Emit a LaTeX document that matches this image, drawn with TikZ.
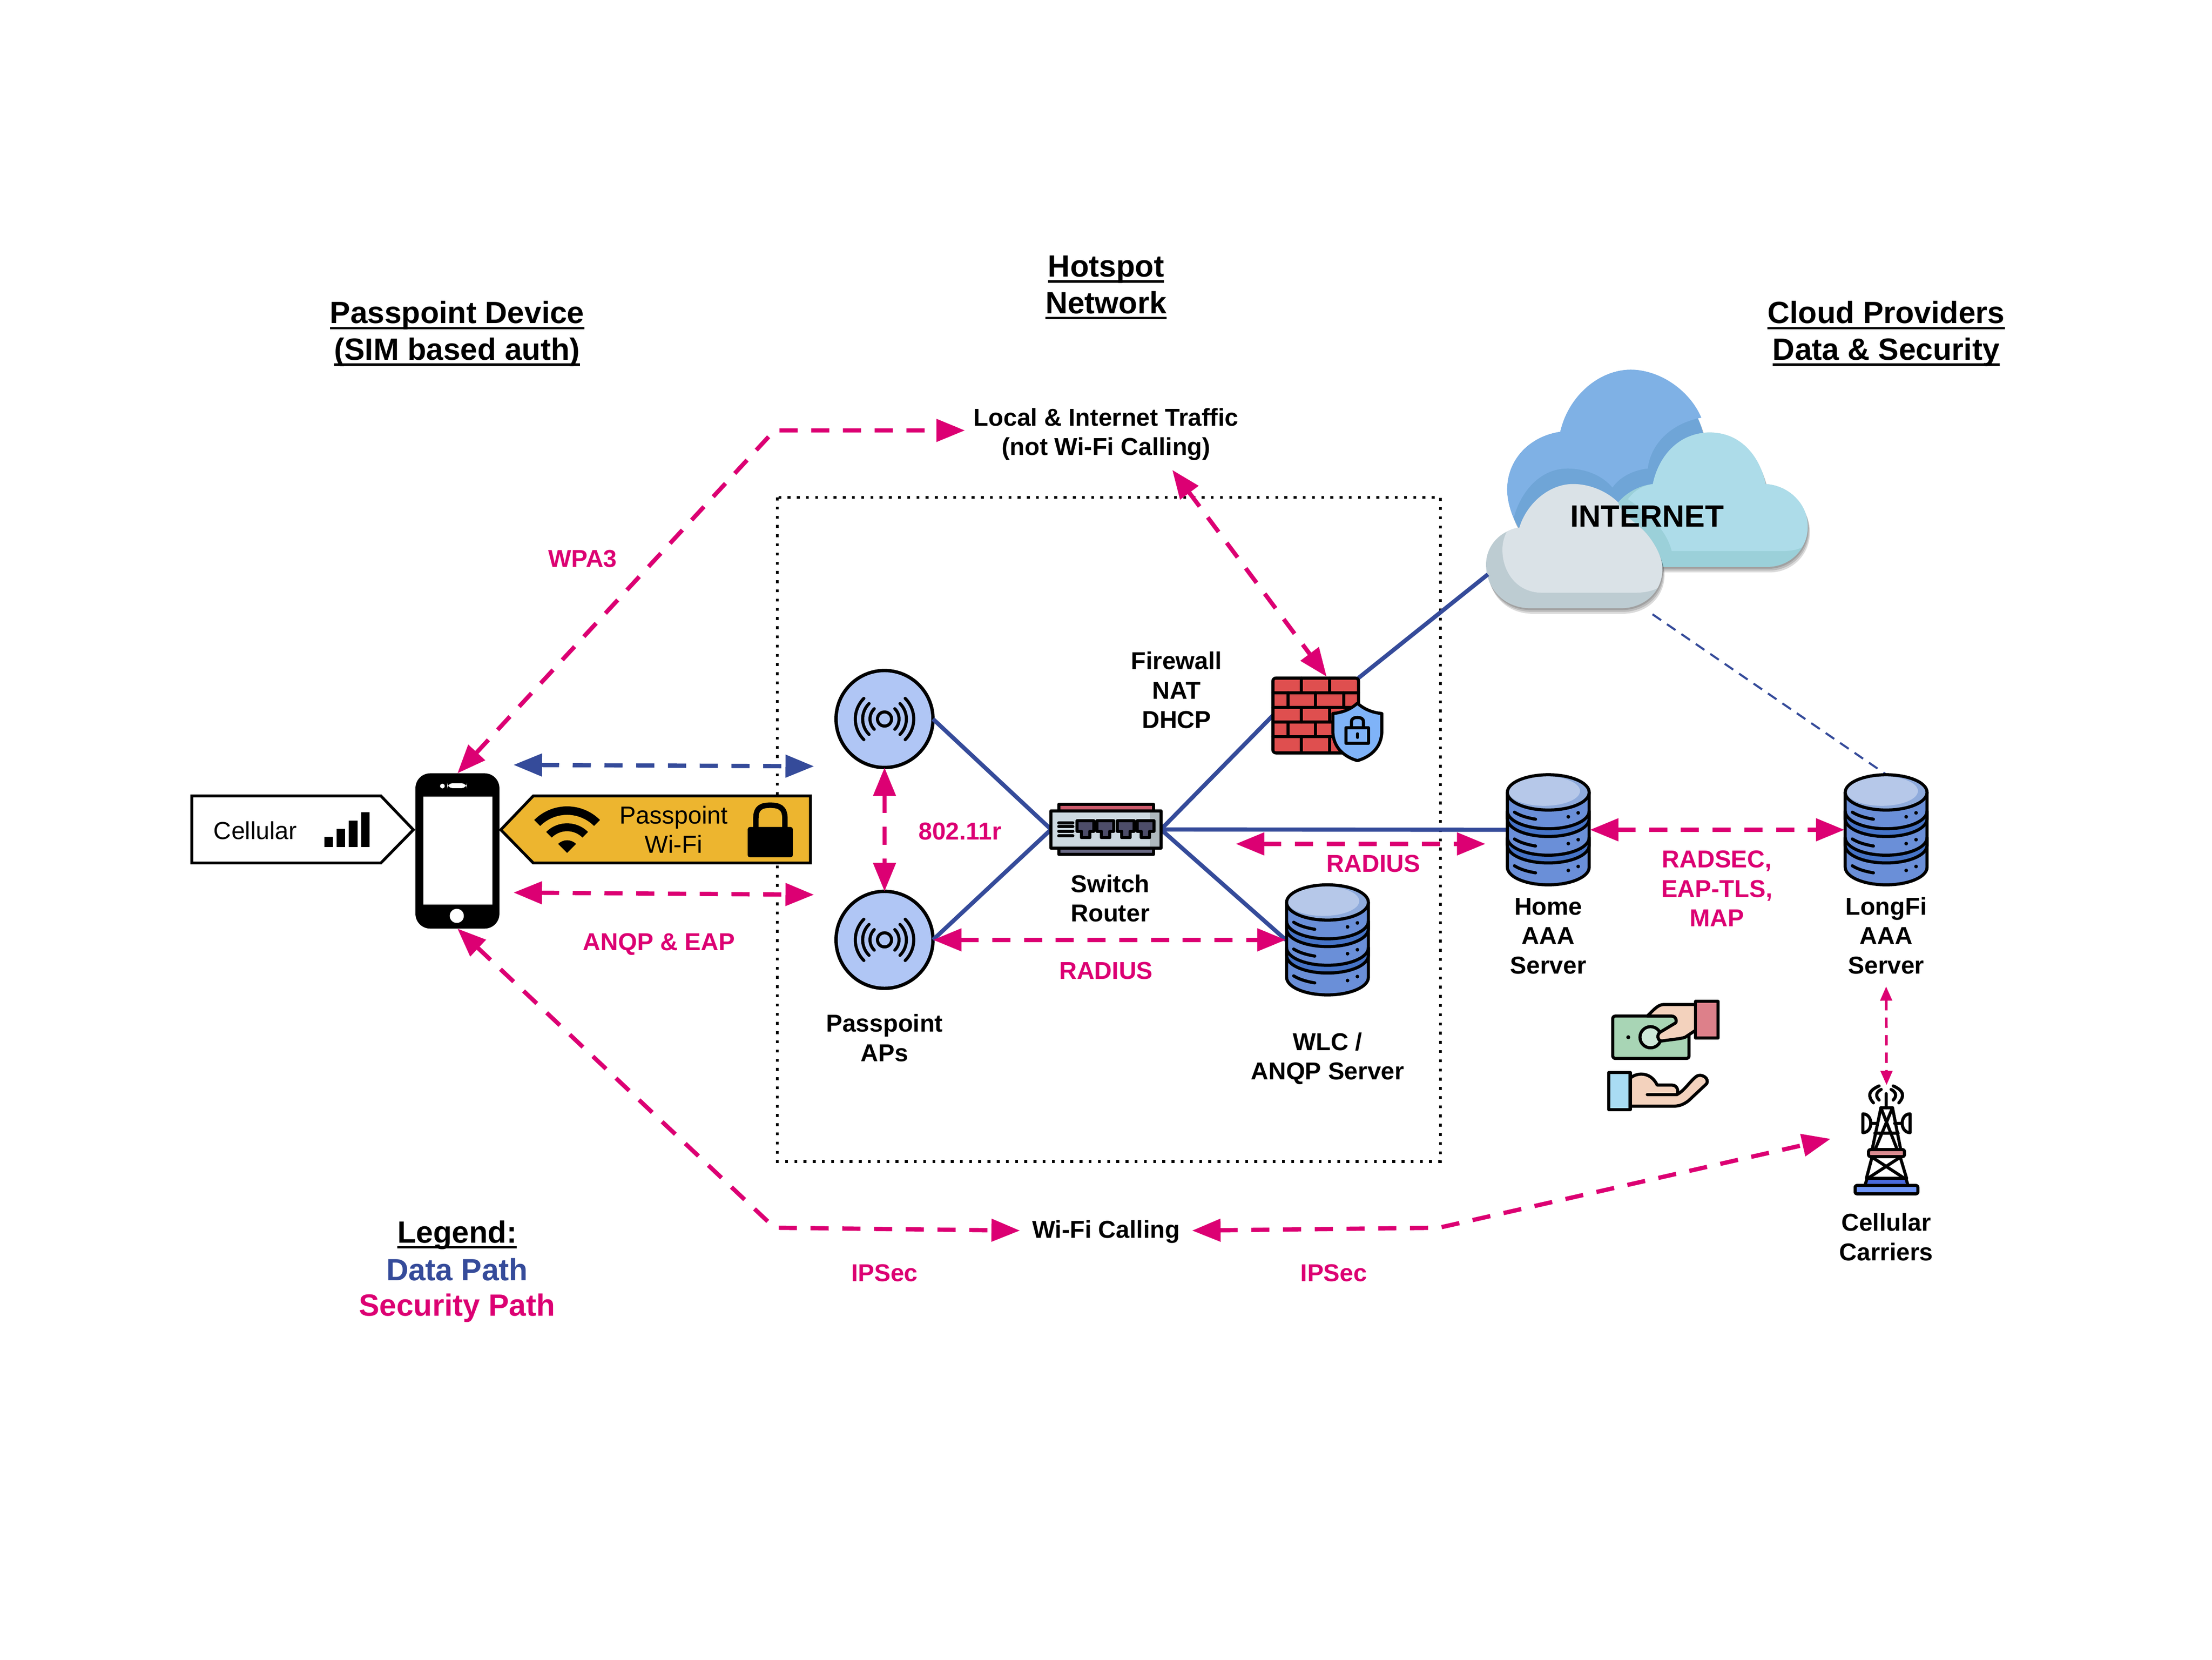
\documentclass[tikz,border=0pt]{standalone}
\usepackage{fontspec}
\setmainfont{Liberation Sans}
\usetikzlibrary{arrows.meta,positioning,calc,shadows}
\definecolor{secpink}{HTML}{DC0073}
\definecolor{datablue}{HTML}{354B9A}
\definecolor{apblue}{HTML}{B0C6F5}
\definecolor{bannergold}{HTML}{EDB52F}
\definecolor{dbbody}{HTML}{6A8FD8}
\definecolor{dbband}{HTML}{4674C8}
\definecolor{dbtop}{HTML}{B6C8E9}
\definecolor{dbrim}{HTML}{8FABDC}
\definecolor{brickred}{HTML}{DF4F4F}
\definecolor{shieldblue}{HTML}{7FB3F8}
\definecolor{skin}{HTML}{F3D2BD}
\newcommand{\ulined}[1]{\setbox0=\hbox{#1}\rlap{\vrule width\wd0 height-2.6pt depth4.4pt}\box0}
\tikzset{
  lbl/.style={font=\fontsize{18.85}{22.8}\selectfont\bfseries, inner sep=0pt},
  pinklbl/.style={lbl, text=secpink},
  ttl/.style={font=\fontsize{23.7}{28.3}\selectfont\bfseries, inner sep=0pt},
  tagtxt/.style={font=\fontsize{19}{22.4}\selectfont, inner sep=0pt},
  seclink/.style={<->, line width=3.3pt, secpink, dash pattern=on 14pt off 10.5pt},
  datadash/.style={<->, line width=3.3pt, datablue, dash pattern=on 14pt off 10.5pt},
  datalink/.style={line width=3.2pt, datablue},
  iconbox/.style={inner sep=0pt, outer sep=0pt},
  iconline/.style={line width=2.4pt, line cap=round, line join=round},
  tagbox/.style={draw, line width=2.2pt, line join=miter},
  softshadow/.style={drop shadow={shadow xshift=.2mm, shadow yshift=-.5mm, opacity=.14, fill=black},
    drop shadow={shadow xshift=.4mm, shadow yshift=-1mm, opacity=.14, fill=black},
    drop shadow={shadow xshift=.6mm, shadow yshift=-1.5mm, opacity=.14, fill=black}},
  apicon/.pic={
    \draw[iconline] (0,0) circle (5);
    \foreach \r in {10.3,15.5,20.7} {
      \draw[iconline] (135:\r) arc[start angle=135, end angle=225, radius=\r];
      \draw[iconline] (-45:\r) arc[start angle=-45, end angle=45, radius=\r];
    }
  },
  dbicon/.pic={
    \draw[iconline, fill=dbbody] (-29,-26.5) -- (-29,26.5) arc[start angle=180, end angle=0, x radius=29, y radius=12.5] -- (29,-26.5) -- cycle;
    \foreach \c in {-13.25,5.5} {
      \draw[iconline, fill=dbband] (-29,\c) arc[start angle=180, end angle=0, x radius=29, y radius=12.5] -- (29,\c+5.5) arc[start angle=0, end angle=180, x radius=29, y radius=12.5] -- cycle;
    }
    \foreach \d in {0,19,38} {
      \draw[iconline] (-24,-12.5+\d) .. controls (-20,-10+\d) and (-15,-8.5+\d) .. (-9,-7.5+\d);
      \fill (14.2,-9.2+\d) circle (1.3) (21.2,-12+\d) circle (1.3);
    }
    \fill[dbrim] (0,-26.5) ellipse [x radius=29, y radius=12.5];
    \fill[dbtop] (-3,-27.5) ellipse [x radius=25.5, y radius=10.5];
    \draw[iconline] (0,-26.5) ellipse [x radius=29, y radius=12.5];
  },
}
\begin{document}
\begin{tikzpicture}[>={Triangle[length=22pt,width=17pt]}, x=0.38265mm, y=-0.38265mm]
  \useasboundingbox (0,0) rectangle (1568,1176);

  % headings
  \node[ttl] (devhead) at (324,237) {\begin{tabular}{@{}c@{}} \ulined{Passpoint Device} \\ \ulined{(SIM based auth)} \end{tabular}};
  \node[ttl] (hothead) at (784,204) {\begin{tabular}{@{}c@{}} \ulined{Hotspot} \\ \ulined{Network} \end{tabular}};
  \node[ttl] (cloudhead) at (1337,237) {\begin{tabular}{@{}c@{}} \ulined{Cloud Providers} \\ \ulined{Data \& Security} \end{tabular}};

  % hotspot network box
  \draw[line width=2.2pt, dash pattern=on 2.2pt off 4.9pt] (551,352.5) rectangle (1021,823);

  % clouds
  \path[fill=white, softshadow] (1106,306) .. controls (1112,280) and (1134,262) .. (1156,262) .. controls (1180,262) and (1201,283) .. (1207,306) -- (1207,340) -- (1150,380) -- (1077,375) .. controls (1072,367) and (1068.4,356) .. (1068.4,347) .. controls (1068.4,325) and (1085,309) .. (1106,306) -- cycle;
  \fill[color={rgb,255:red,111;green,165;blue,215}] (1106,306) .. controls (1112,280) and (1134,262) .. (1156,262) .. controls (1180,262) and (1201,283) .. (1207,306) -- (1207,340) -- (1150,380) -- (1077,375) .. controls (1072,367) and (1068.4,356) .. (1068.4,347) .. controls (1068.4,325) and (1085,309) .. (1106,306) -- cycle;
  \fill[color={rgb,255:red,127;green,177;blue,229}] (1106,306) .. controls (1112,280) and (1134,262) .. (1156,262) .. controls (1177,262) and (1198,277) .. (1206,296) .. controls (1184,300) and (1170,315) .. (1168,332) .. controls (1158,333) and (1148,338) .. (1143,345.5) .. controls (1136,337) and (1124,332) .. (1111,332) .. controls (1092,332) and (1078,348) .. (1073,367) .. controls (1070,360) and (1068.4,353) .. (1068.4,347) .. controls (1068.4,325) and (1085,309) .. (1106,306) -- cycle;
  \path[fill={rgb,255:red,155;green,208;blue,217}, softshadow] (1171.6,343) .. controls (1176,322) and (1191,306.5) .. (1212,306.5) .. controls (1233,306.5) and (1247,322) .. (1251.6,343) .. controls (1268,344) and (1281.4,357) .. (1281.4,373) .. controls (1281.4,390) and (1268,401.7) .. (1253,401.7) -- (1165,401.7) -- (1140,370) -- (1147,356) .. controls (1153,349) and (1162,344) .. (1171.6,343) -- cycle;
  \fill[color={rgb,255:red,173;green,220;blue,233}] (1171.6,343) .. controls (1176,322) and (1191,306.5) .. (1212,306.5) .. controls (1233,306.5) and (1247,322) .. (1251.6,343) .. controls (1268,344) and (1281.4,357) .. (1281.4,373) .. controls (1281.4,379) and (1280,384) .. (1277,388) .. controls (1273,390) and (1268,390.5) .. (1262,390.5) -- (1185,390.5) .. controls (1182,378) and (1172,366) .. (1154,353.7) .. controls (1159,347) and (1165,344) .. (1171.6,343) -- cycle;
  \path[fill={rgb,255:red,189;green,204;blue,210}, softshadow] (1077,374) .. controls (1082,357) and (1098,343) .. (1115,343) .. controls (1128,343) and (1140,349) .. (1147,356) .. controls (1150,366) and (1160,370) .. (1167,378) .. controls (1173,385) and (1178.4,395) .. (1178.4,403) .. controls (1178.4,420) and (1165,431) .. (1149,431) -- (1085,431) .. controls (1066,431) and (1053.4,417) .. (1053.4,400) .. controls (1053.4,387) and (1063,376) .. (1077,374) -- cycle;
  \fill[color={rgb,255:red,218;green,226;blue,231}] (1077,374) .. controls (1082,357) and (1098,343) .. (1115,343) .. controls (1128,343) and (1140,349) .. (1147,356) .. controls (1150,366) and (1160,370) .. (1167,378) .. controls (1173,385) and (1178.4,395) .. (1178.4,403) .. controls (1178.4,408) and (1177,413) .. (1175,416.7) .. controls (1171,419) and (1165,420) .. (1159,420) -- (1093,420) .. controls (1075,420) and (1065,405) .. (1065,389.7) .. controls (1065,385) and (1066,381) .. (1068,377) .. controls (1071,375) and (1074,374) .. (1077,374) -- cycle;
  \node[ttl] (inet) at (1167.5,366) {INTERNET};
  \coordinate (inetw) at (1054.7,407);
  \coordinate (inets) at (1171.4,435.3);

  % device nodes
  \node[iconbox, minimum width=22.77mm, minimum height=42.1mm, fill=black, rounded corners=4mm] (phone) at (324.25,603) {};
  \node[iconbox, circle, draw, line width=2.6pt, fill=apblue, minimum size=26.3mm] (ap1) at (627,509.5) {};
  \node[iconbox, circle, draw, line width=2.6pt, fill=apblue, minimum size=26.3mm] (ap2) at (627,666) {};
  \node[iconbox, minimum width=29.8mm, minimum height=13.6mm] (swr) at (784,587.75) {};
  \node[iconbox, minimum width=23.2mm, minimum height=20.3mm] (fw) at (932.6,507) {};
  \node[iconbox, minimum width=22.6mm, minimum height=30mm] (wlc) at (941,666) {};
  \node[iconbox, minimum width=22.6mm, minimum height=30mm] (homeaaa) at (1097.5,588) {};
  \node[iconbox, minimum width=22.6mm, minimum height=30mm] (lfaaa) at (1337,588) {};
  \node[iconbox, minimum width=17.4mm, minimum height=29.7mm] (tower) at (1337.3,807.7) {};

  % data links
  \draw[datalink] (ap1.east) -- (swr.west);
  \draw[datalink] (ap2.east) -- (swr.west);
  \draw[datalink] (swr.east) -- (fw.west);
  \draw[datalink] (fw.north east) -- (inetw);
  \draw[datalink] (swr.east) -- (homeaaa.west);
  \draw[datalink] (swr.east) -- (wlc.west);
  \draw[line width=1.6pt, datablue, dash pattern=on 8pt off 5.5pt] (inets) -- (lfaaa.north);

  % phone
  \fill[white] (300,564.5) rectangle (349,641);
  \fill[white, rounded corners=1.5mm] (317,555) rectangle (331,558.5);
  \fill[white] (313.6,557) circle (1.7);
  \fill[white] (323.8,649) circle (5);

  % cellular tag
  \draw[tagbox, fill=white] (136,564) -- (270,564) -- (293,588) -- (270,611.5) -- (136,611.5) -- cycle;
  \node[tagtxt] (celltxt) at (181,588.5) {Cellular};
  \fill (230,593) rectangle (236,600.2) (238.6,587.4) rectangle (244.6,600.2) (247.2,581.5) rectangle (253.5,600.2) (256,575.6) rectangle (262,600.2);

  % passpoint wi-fi tag
  \draw[tagbox, fill=bannergold] (355,588) -- (378,564) -- (574.5,564) -- (574.5,611.5) -- (378,611.5) -- cycle;
  \node[tagtxt] (passtxt) at (477.5,590) {\begin{tabular}{@{}c@{}} Passpoint \\ Wi-Fi \end{tabular}};
  \foreach \ro/\ri in {33/27,21/15.4} {
    \fill ($(402,604.4)+(225:\ro)$) arc[start angle=225, end angle=315, radius=\ro] -- ($(402,604.4)+(315:\ri)$) arc[start angle=315, end angle=225, radius=\ri] -- cycle;
  }
  \fill (402,604.4) -- ($(402,604.4)+(225:9)$) arc[start angle=225, end angle=315, radius=9] -- cycle;
  \fill[rounded corners=.6mm] (530,586) rectangle (562,607.5);
  \draw[line width=4.2pt] (535.8,588) -- (535.8,580) .. controls (535.8,572) and (540,570.6) .. (546,570.6) .. controls (552,570.6) and (556.4,572) .. (556.4,580) -- (556.4,588);

  % icons
  \pic at (ap1) {apicon};
  \pic at (ap2) {apicon};
  \pic at (wlc) {dbicon};
  \pic at (homeaaa) {dbicon};
  \pic at (lfaaa) {dbicon};

  % switch
  \draw[iconline, fill={rgb,255:red,204;green,91;blue,108}] (750.5,570) rectangle (817.6,575);
  \draw[iconline, fill={rgb,255:red,107;green,107;blue,134}] (750.5,600) rectangle (817.6,605.5);
  \fill[color={rgb,255:red,205;green,217;blue,224}] (745,574.6) rectangle (823,601);
  \fill[color={rgb,255:red,174;green,184;blue,189}] (815,574.6) rectangle (823,601);
  \draw[iconline] (745,574.6) rectangle (823,601);
  \foreach \px in {763.5,777.6,792,806} {
    \draw[iconline, fill={rgb,255:red,77;green,77;blue,105}] (\px,581.7) -- (\px+12,581.7) -- (\px+12,589) -- (\px+9,589) -- (\px+9,593.6) -- (\px+3,593.6) -- (\px+3,589) -- (\px,589) -- cycle;
  }
  \foreach \ly in {583,585.7,589,592.3} {
    \draw[iconline] (750.5,\ly) -- (760.5,\ly);
  }

  % firewall
  \draw[iconline, fill=brickred, rounded corners=.8mm] (902.3,480.5) rectangle (963,533.5);
  \foreach \ly in {490.8,501.4,511.7,521.9} {
    \draw[iconline] (902.3,\ly) -- (963,\ly);
  }
  \foreach \vx/\ya/\yb in {922.5/480.5/490.8,942.5/480.5/490.8,913/490.8/501.4,932.5/490.8/501.4,952.4/490.8/501.4,922.5/501.4/511.7,942.5/501.4/511.7,913/511.7/521.9,932.5/511.7/521.9,952.4/511.7/521.9,922.5/521.9/533.5,942.5/521.9/533.5} {
    \draw[iconline] (\vx,\ya) -- (\vx,\yb);
  }
  \draw[iconline, fill=shieldblue] (962.2,498.3) .. controls (957,503) and (951,505) .. (944.8,505.6) -- (944.8,518) .. controls (944.8,529) and (952,536) .. (962.2,539) .. controls (972.4,536) and (979.5,529) .. (979.5,518) -- (979.5,505.6) .. controls (973.4,505) and (967.4,503) .. (962.2,498.3) -- cycle;
  \draw[iconline] (958,515.7) -- (958,511.5) .. controls (958,509) and (960,508.4) .. (962.2,508.4) .. controls (964.4,508.4) and (966.5,509) .. (966.5,511.5) -- (966.5,515.7);
  \draw[iconline] (954,515.7) rectangle (970,526.7);
  \draw[iconline] (962.2,520) -- (962.2,522.5);

  % money and hands
  \node[iconbox, minimum width=29.9mm, minimum height=29.9mm] (pay) at (1179,748) {};
  \draw[iconline, fill={rgb,255:red,168;green,213;blue,181}, rounded corners=.7mm] (1143.2,720) rectangle (1197.3,750);
  \draw[iconline, fill={rgb,255:red,205;green,232;blue,216}] (1170,735) circle (7.5);
  \fill (1154.2,735) circle (1.4);
  \draw[iconline, fill=skin] (1202,711.8) -- (1179.4,711.8) .. controls (1175,711.8) and (1172,716) .. (1167.7,720) -- (1185,720) .. controls (1188,720) and (1189,724) .. (1187.5,725) -- (1177,731.3) .. controls (1174,733) and (1175,738) .. (1178.2,737.6) .. controls (1186,736.5) and (1192,736) .. (1194.5,735) -- (1202,730) -- cycle;
  \draw[iconline, fill={rgb,255:red,221;green,128;blue,138}] (1202,709.6) rectangle (1217.8,735.6);
  \draw[iconline, fill=skin] (1155.6,764) .. controls (1160,760) and (1170,759) .. (1174.7,768.9) -- (1185.2,768.9) .. controls (1189,769) and (1190,773) .. (1188.7,775.6) .. controls (1194,773) and (1198,766) .. (1202.7,762.6) .. controls (1206,760.5) and (1212,764) .. (1209.7,768) -- (1196.9,780) .. controls (1193,783) and (1190,783.9) .. (1185.2,783.9) -- (1155.6,783.9) -- cycle;
  \draw[iconline] (1167.7,775.6) -- (1188.7,775.6);
  \draw[iconline, fill={rgb,255:red,169;green,220;blue,243}] (1140.4,760) rectangle (1155.6,786.4);

  % tower
  \draw[iconline] (1332,769.5) .. controls (1324,773) and (1324,777) .. (1328,781.5);
  \draw[iconline] (1342,769.5) .. controls (1350,773) and (1350,777) .. (1346,781.5);
  \draw[iconline] (1333.5,772) .. controls (1329.5,774) and (1329.5,777) .. (1332,779.5);
  \draw[iconline] (1340.5,772) .. controls (1344.5,774) and (1344.5,777) .. (1342,779.5);
  \draw[iconline] (1337,775) -- (1337,785);
  \draw[iconline] (1333.3,785) -- (1341.5,785) -- (1347.4,815);
  \draw[iconline] (1333.3,785) -- (1327,815);
  \draw[iconline] (1333.3,785) -- (1345,815) (1341.5,785) -- (1329,815) (1329,803) -- (1345.5,803);
  \draw[iconline] (1327,820) -- (1323,835) (1347,820) -- (1351.5,835) (1327,820) -- (1350,835) (1347,820) -- (1324,835);
  \draw[iconline, fill={rgb,255:red,217;green,138;blue,143}, rounded corners=.5mm] (1324.5,814.6) rectangle (1350,819.6);
  \draw[iconline, fill={rgb,255:red,74;green,107;blue,224}] (1322,840) -- (1323.5,835) -- (1351,835) -- (1352.5,840) -- cycle;
  \draw[iconline, fill={rgb,255:red,111;green,150;blue,248}, rounded corners=.5mm] (1315,840) rectangle (1359.5,846);
  \draw[iconline, fill=white] (1320.5,789.3) .. controls (1328,789.3) and (1328,802.6) .. (1320.5,802.6) -- cycle;
  \draw[iconline, fill=white] (1354,789.3) .. controls (1346.5,789.3) and (1346.5,802.6) .. (1354,802.6) -- cycle;
  \draw[iconline] (1326.5,796) -- (1331,796) (1343,796) -- (1348,796);

  % labels
  \node[lbl] (localnet) at (784,308) {\begin{tabular}{@{}c@{}} Local \& Internet Traffic \\ (not Wi-Fi Calling) \end{tabular}};
  \node[lbl] (fwlbl) at (834,491) {\begin{tabular}{@{}c@{}} Firewall \\ NAT \\ DHCP \end{tabular}};
  \node[lbl] (swlbl) at (787,638.5) {\begin{tabular}{@{}c@{}} Switch \\ Router \end{tabular}};
  \node[lbl] (aplbl) at (627,737.5) {\begin{tabular}{@{}c@{}} Passpoint \\ APs \end{tabular}};
  \node[lbl] (wlclbl) at (941,750.5) {\begin{tabular}{@{}c@{}} WLC / \\ ANQP Server \end{tabular}};
  \node[lbl] (homelbl) at (1097.5,665) {\begin{tabular}{@{}c@{}} Home \\ AAA \\ Server \end{tabular}};
  \node[lbl] (lflbl) at (1337,665) {\begin{tabular}{@{}c@{}} LongFi \\ AAA \\ Server \end{tabular}};
  \node[lbl] (towerlbl) at (1337,878.5) {\begin{tabular}{@{}c@{}} Cellular \\ Carriers \end{tabular}};
  \node[lbl] (wifical) at (784,873) {Wi-Fi Calling};
  \node[pinklbl] (wpalbl) at (413,396) {WPA3};
  \node[pinklbl] (anqplbl) at (467,669) {ANQP \& EAP};
  \node[pinklbl] (fastlbl) at (680.5,589) {802.11r};
  \node[pinklbl] (radlbl) at (784,688) {RADIUS};
  \node[pinklbl] (radtwolbl) at (973.5,612) {RADIUS};
  \node[pinklbl] (radseclbl) at (1217,631.5) {\begin{tabular}{@{}c@{}} RADSEC, \\ EAP-TLS, \\ MAP \end{tabular}};
  \node[pinklbl] (ipsecl) at (627,902) {IPSec};
  \node[pinklbl] (ipsecr) at (945.5,902) {IPSec};
  \node[ttl] (legend) at (324,875) {\ulined{Legend:}};
  \node[ttl, text=datablue] (legdata) at (324,899.5) {Data Path};
  \node[ttl, text=secpink] (legsec) at (324,927) {Security Path};

  % free ends
  \coordinate (wpacorner) at (549,305);
  \coordinate (localend) at (684,305);
  \coordinate (ipcorner) at (549,870);
  \coordinate (ipbend) at (1020,870);
  \coordinate (wifiout) at (723,872);
  \coordinate (wifiin) at (845,872);
  \coordinate (towerin) at (1297.6,807);
  \coordinate (localin) at (831,333);
  \coordinate (fwtop) at (940.4,479.5);
  \coordinate (phonetopl) at (364,542);
  \coordinate (aptopl) at (577,543);
  \coordinate (phonebotl) at (364,632.5);
  \coordinate (apbotl) at (577,634);
  \coordinate (radl) at (876,598);
  \coordinate (radr) at (1053,598);
  \coordinate (lfdown) at (1337,699);

  % security and data paths
  \draw[seclink] (phone.north) -- (wpacorner) -- (localend);
  \draw[seclink] (phone.south) -- (ipcorner) -- (wifiout);
  \draw[seclink] (wifiin) -- (ipbend) -- (towerin);
  \draw[seclink] (localin) -- (fwtop);
  \draw[datadash] (phonetopl) -- (aptopl);
  \draw[seclink] (phonebotl) -- (apbotl);
  \draw[seclink] (ap1.south) -- (ap2.north);
  \draw[seclink] (ap2.east) -- (wlc.west);
  \draw[seclink] (radl) -- (radr);
  \draw[seclink] (homeaaa.east) -- (lfaaa.west);
  \draw[<->, >={Triangle[length=11pt,width=9pt]}, line width=2pt, secpink, dash pattern=on 8pt off 5.5pt] (lfdown) -- (tower.north);
\end{tikzpicture}
\end{document}
